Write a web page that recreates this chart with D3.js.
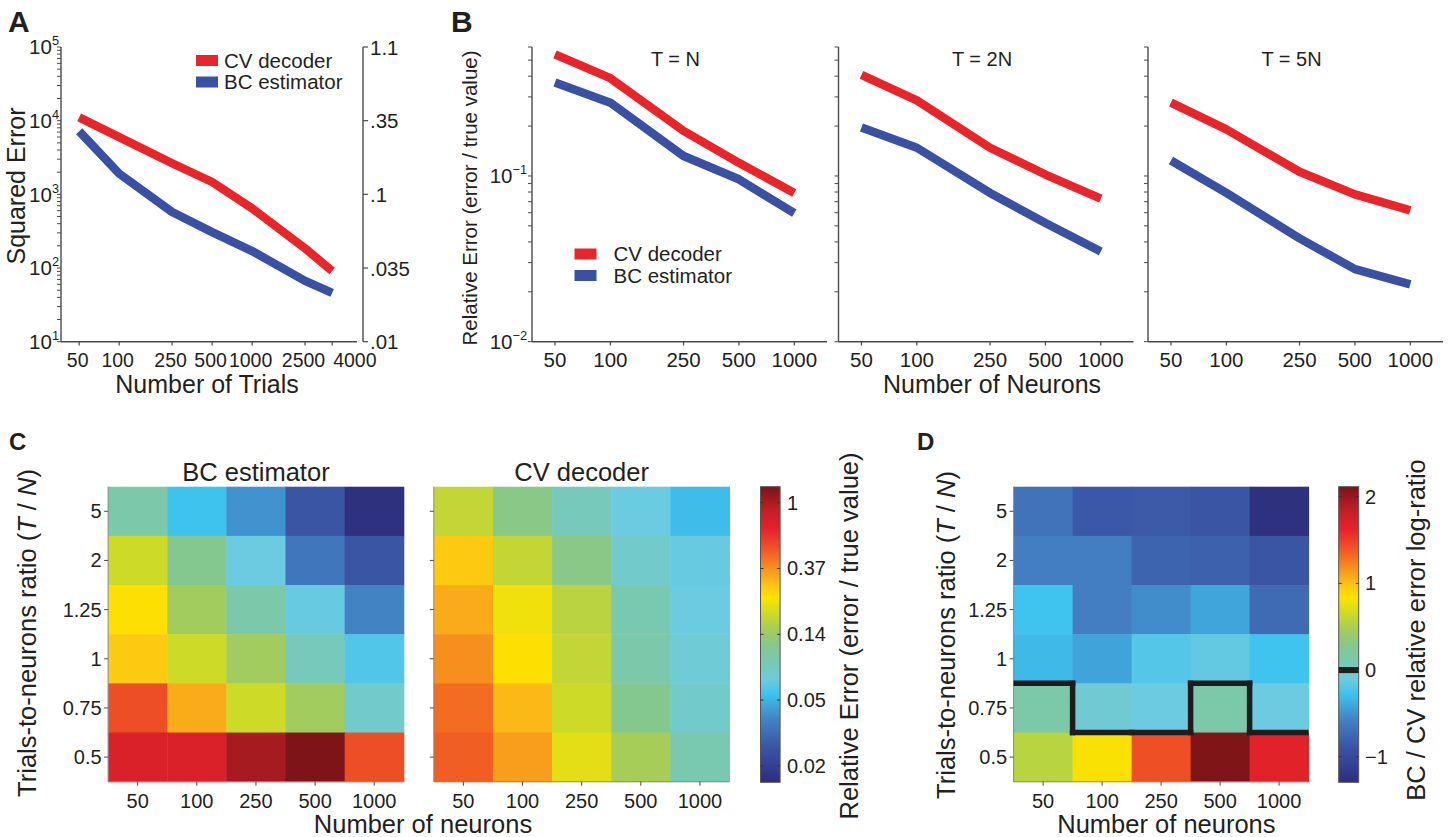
<!doctype html>
<html>
<head>
<meta charset="utf-8">
<script src="https://d3js.org/d3.v7.min.js"></script>
<style>
  body { margin: 0; background: #fff; }
  text { font-family: "Liberation Sans", Arial, sans-serif; fill: #231f20; }
</style>
</head>
<body>
<svg id="fig" width="1455" height="837"></svg>
<script>
// ---- data ----
// panel A
const trialsA = [50, 100, 250, 500, 1000, 2500, 4000];
const cvSqErr = [11100, 5970, 2640, 1470, 645, 185, 91];
const bcSqErr = [7190, 1910, 575, 307, 170, 67, 46];
const sqTicks = [1e1, 1e2, 1e3, 1e4, 1e5];
const sqTickExp = ['1', '2', '3', '4', '5'];
const relTickLabels = ['.01', '.035', '.1', '.35', '1.1'];

// panel B
const neuronsB = [50, 100, 250, 500, 1000];
const titlesB = ['T = N', 'T = 2N', 'T = 5N'];
const cvRelB = [
  [0.542, 0.389, 0.187, 0.120, 0.079],
  [0.407, 0.286, 0.148, 0.102, 0.073],
  [0.277, 0.191, 0.106, 0.0775, 0.062]
];
const bcRelB = [
  [0.366, 0.277, 0.132, 0.0955, 0.0596],
  [0.196, 0.148, 0.079, 0.052, 0.035],
  [0.124, 0.079, 0.042, 0.0274, 0.0222]
];
const relTicksB = [0.01, 0.1];
const relTickExpB = ['\u22122', '\u22121'];

// panels C and D (rows top to bottom)
const neuronsC = ['50', '100', '250', '500', '1000'];
const ratiosC = ['5', '2', '1.25', '1', '0.75', '0.5'];
const bcHeat = [
  [0.094, 0.055, 0.041, 0.0245, 0.0149],
  [0.185, 0.113, 0.067, 0.033, 0.0245],
  [0.242, 0.144, 0.094, 0.066, 0.037],
  [0.277, 0.185, 0.144, 0.084, 0.060],
  [0.52, 0.324, 0.185, 0.144, 0.077],
  [0.727, 0.727, 1.02, 1.26, 0.52]
];
const cvHeat = [
  [0.173, 0.118, 0.084, 0.067, 0.0526],
  [0.277, 0.173, 0.118, 0.077, 0.066],
  [0.324, 0.221, 0.165, 0.090, 0.067],
  [0.371, 0.242, 0.173, 0.094, 0.072],
  [0.444, 0.303, 0.185, 0.113, 0.077],
  [0.475, 0.347, 0.207, 0.148, 0.090]
];
const logRatioHeat = [
  [-0.68, -0.87, -0.85, -0.89, -1.26],
  [-0.60, -0.60, -0.78, -0.80, -0.89],
  [-0.27, -0.60, -0.53, -0.41, -0.73],
  [-0.32, -0.42, -0.20, -0.15, -0.27],
  [0.14, -0.06, -0.12, 0.14, -0.12],
  [0.56, 0.82, 1.43, 2.1, 1.65]
];
const cbTicksC = [1, 0.3679, 0.1353, 0.0498, 0.0183];
const cbLabelsC = ['1', '0.37', '0.14', '0.05', '0.02'];
const cbTicksD = [2, 1, 0, -1];
const cbLabelsD = ['2', '1', '0', '\u22121'];

// printed jet colormap, sampled from the colour bar
const jetStops = [
  [0.00, '#2c2e7c'], [0.07, '#35449a'], [0.12, '#3b55a5'], [0.21, '#4281c3'],
  [0.30, '#3ec3ef'], [0.345, '#6ccbe0'], [0.41, '#79c9b0'], [0.465, '#86c88c'],
  [0.515, '#a2cc5e'], [0.565, '#c9d92c'], [0.625, '#fde300'], [0.67, '#fcc315'],
  [0.72, '#f7941e'], [0.785, '#f05a24'], [0.855, '#e6222a'], [0.92, '#c01f26'],
  [1.00, '#7c1416']
];
const RED = '#e8252a', BLUE = '#3a50a2', AXIS = '#4a4a4a';

const svg = d3.select('#fig');
svg.append('rect').attr('width', 1455).attr('height', 837).attr('fill', '#fff');
const defs = svg.append('defs');

const cmap = d3.scaleLinear()
  .domain(jetStops.map(s => s[0]))
  .range(jetStops.map(s => s[1]))
  .clamp(true);

function panelLetter(x, y, s, size) {
  svg.append('text').attr('x', x).attr('y', y)
    .style('font-size', size + 'px').style('font-weight', 'bold').text(s);
}

function vline(g, x, y1, y2) {
  g.append('line').attr('x1', x).attr('x2', x).attr('y1', y1).attr('y2', y2)
    .attr('stroke', AXIS).attr('stroke-width', 1.4);
}
function hline(g, y, x1, x2) {
  g.append('line').attr('x1', x1).attr('x2', x2).attr('y1', y).attr('y2', y)
    .attr('stroke', AXIS).attr('stroke-width', 1.4);
}

// minor+major log ticks for a vertical axis
function logTicksY(g, y, x0, lo, hi, len) {
  const vals = [];
  for (let d = Math.floor(Math.log10(lo)); d <= Math.ceil(Math.log10(hi)); d++) {
    for (let k = 1; k <= 9; k++) {
      const v = k * Math.pow(10, d);
      if (v >= lo * 0.999 && v <= hi * 1.001) vals.push(v);
    }
  }
  g.selectAll(null).data(vals).join('line')
    .attr('x1', x0 - len).attr('x2', x0)
    .attr('y1', d => y(d)).attr('y2', d => y(d))
    .attr('stroke', AXIS).attr('stroke-width', 1);
}

function expLabel(g, x, y, exp, size) {
  const t = g.append('text').attr('x', x).attr('y', y + size * 0.36)
    .attr('text-anchor', 'end').style('font-size', size + 'px');
  t.append('tspan').text('10');
  t.append('tspan').attr('dy', -size * 0.45).style('font-size', (size * 0.62) + 'px').text(exp);
}

function legend(g, x, y, size, gap) {
  const items = [['CV decoder', RED], ['BC estimator', BLUE]];
  items.forEach((it, i) => {
    g.append('rect').attr('x', x).attr('y', y + i * 21.5)
      .attr('width', 22).attr('height', 11).attr('fill', it[1]);
    g.append('text').attr('x', x + gap).attr('y', y + i * 21.5 + 12.5)
      .style('font-size', size + 'px').text(it[0]);
  });
}

// ================= Panel A =================
(function () {
  const g = svg.append('g');
  const x = d3.scaleLog().domain([36.5, 6150]).range([61, 357]);
  const y = d3.scaleLog().domain([10, 1e5]).range([341.7, 47]);

  vline(g, 61, 47, 341.7);
  hline(g, 341.7, 61, 357);
  vline(g, 363, 47, 341.7);
  logTicksY(g, y, 61, 10, 1e5, 4);

  sqTicks.forEach((v, i) => {
    expLabel(g, 59, y(v), sqTickExp[i], 20.5);
    g.append('line').attr('x1', 363).attr('x2', 368).attr('y1', y(v)).attr('y2', y(v))
      .attr('stroke', AXIS).attr('stroke-width', 1.2);
    g.append('text').attr('x', 370).attr('y', y(v) + 7.5)
      .style('font-size', '20.5px').text(relTickLabels[i]);
  });

  trialsA.forEach((v, i) => {
    const last = i === trialsA.length - 1;
    g.append('line').attr('x1', x(v)).attr('x2', x(v)).attr('y1', 341.7).attr('y2', 345.5)
      .attr('stroke', AXIS).attr('stroke-width', 1.2);
    // the last label sits just right of its tick so it does not run into "2500"
    g.append('text').attr('x', last ? x(v) + 1 : x(v) - 1.5).attr('y', 366.5)
      .attr('text-anchor', last ? 'start' : 'middle')
      .style('font-size', '19.5px').text(v);
  });

  const line = d3.line().x((d, i) => x(trialsA[i])).y(d => y(d));
  [[cvSqErr, RED], [bcSqErr, BLUE]].forEach(s => {
    g.append('path').attr('d', line(s[0])).attr('fill', 'none')
      .attr('stroke', s[1]).attr('stroke-width', 8.5).attr('stroke-linejoin', 'round');
  });

  legend(g, 196, 55, 20.5, 28);

  g.append('text').attr('x', 207).attr('y', 393).attr('text-anchor', 'middle')
    .style('font-size', '25px').text('Number of Trials');
  g.append('text').attr('transform', 'translate(25,186) rotate(-90)')
    .attr('text-anchor', 'middle').style('font-size', '25px').text('Squared Error');
  panelLetter(8, 32, 'A', 30);
})();

// ================= Panel B =================
(function () {
  const lefts = [532, 838.5, 1148];
  const W = 295;
  const y = d3.scaleLog().domain([0.01, 0.6]).range([341.7, 47]);

  lefts.forEach((L, p) => {
    const g = svg.append('g');
    const x = d3.scaleLog().domain([37.5, 1506]).range([L, L + W]);
    vline(g, L, 47, 341.7);
    hline(g, 341.7, L, L + W);
    logTicksY(g, y, L, 0.01, 0.6, 4);
    if (p === 0) {
      relTicksB.forEach((v, i) => expLabel(g, 527, y(v), relTickExpB[i], 20.5));
    }
    neuronsB.forEach(v => {
      g.append('line').attr('x1', x(v)).attr('x2', x(v)).attr('y1', 341.7).attr('y2', 345.5)
        .attr('stroke', AXIS).attr('stroke-width', 1.2);
      g.append('text').attr('x', x(v)).attr('y', 366.5).attr('text-anchor', 'middle')
        .style('font-size', '20.5px').text(v);
    });
    const line = d3.line().x((d, i) => x(neuronsB[i])).y(d => y(d));
    [[cvRelB[p], RED], [bcRelB[p], BLUE]].forEach(s => {
      g.append('path').attr('d', line(s[0])).attr('fill', 'none')
        .attr('stroke', s[1]).attr('stroke-width', 8.5).attr('stroke-linejoin', 'round');
    });
    g.append('text').attr('x', L + W / 2 - 4).attr('y', 65.5).attr('text-anchor', 'middle')
      .style('font-size', '20px').text(titlesB[p]);
  });

  legend(svg, 574.5, 248.5, 20.5, 39);
  svg.append('text').attr('x', 992).attr('y', 393).attr('text-anchor', 'middle')
    .style('font-size', '25px').text('Number of Neurons');
  svg.append('text').attr('transform', 'translate(477,198) rotate(-90)')
    .attr('text-anchor', 'middle').style('font-size', '20.5px')
    .text('Relative Error (error / true value)');
  panelLetter(451, 32, 'B', 30);
})();

// ================= Heatmaps (C, D) =================
const TOP = 486.7, BOT = 781.7;
const yBand = d3.scaleBand().domain(ratiosC).range([TOP, BOT]);

function heatmap(left, width, data, colorOf, showY, title) {
  const g = svg.append('g');
  const x = d3.scaleBand().domain(neuronsC).range([left, left + width]);
  data.forEach((row, r) => {
    g.selectAll(null).data(row).join('rect')
      .attr('x', (d, c) => x(neuronsC[c]))
      .attr('y', yBand(ratiosC[r]))
      .attr('width', x.bandwidth() + 0.5)
      .attr('height', yBand.bandwidth() + 0.5)
      .attr('fill', d => colorOf(d));
  });
  g.append('line').attr('x1', left).attr('x2', left).attr('y1', TOP).attr('y2', BOT)
    .attr('stroke', '#8a8a8a').attr('stroke-width', 1);
  g.append('line').attr('x1', left).attr('x2', left + width).attr('y1', BOT).attr('y2', BOT)
    .attr('stroke', '#8a8a8a').attr('stroke-width', 1);
  ratiosC.forEach(r => {
    const yy = yBand(r) + yBand.bandwidth() / 2;
    g.append('line').attr('x1', left - 4).attr('x2', left).attr('y1', yy).attr('y2', yy)
      .attr('stroke', AXIS).attr('stroke-width', 1);
    if (showY) {
      g.append('text').attr('x', left - 6.5).attr('y', yy + 7).attr('text-anchor', 'end')
        .style('font-size', '20px').text(r);
    }
  });
  neuronsC.forEach(n => {
    const xx = x(n) + x.bandwidth() / 2;
    g.append('line').attr('x1', xx).attr('x2', xx).attr('y1', BOT).attr('y2', BOT + 4)
      .attr('stroke', AXIS).attr('stroke-width', 1);
    g.append('text').attr('x', xx).attr('y', 807.5).attr('text-anchor', 'middle')
      .style('font-size', '20px').text(n);
  });
  if (title) {
    g.append('text').attr('x', left + width / 2).attr('y', 481).attr('text-anchor', 'middle')
      .style('font-size', '25.5px').text(title);
  }
  return x;
}

function yLabelTN(x, y) {
  const t = svg.append('text').attr('transform', `translate(${x},${y}) rotate(-90)`)
    .attr('text-anchor', 'middle').style('font-size', '25.5px');
  t.append('tspan').text('Trials-to-neurons ratio (');
  t.append('tspan').style('font-style', 'italic').text('T');
  t.append('tspan').text(' / ');
  t.append('tspan').style('font-style', 'italic').text('N');
  t.append('tspan').text(')');
}

function colorbar(id, x0, w, yScale) {
  const g = svg.append('g');
  const grad = defs.append('linearGradient').attr('id', id)
    .attr('x1', 0).attr('y1', 1).attr('x2', 0).attr('y2', 0);
  grad.selectAll('stop').data(jetStops).join('stop')
    .attr('offset', d => d[0]).attr('stop-color', d => d[1]);
  const [a, b] = yScale.range();
  g.append('rect').attr('x', x0).attr('y', b).attr('width', w).attr('height', a - b)
    .attr('fill', `url(#${id})`).attr('stroke', '#555').attr('stroke-width', 1);
  return g;
}

// ---- Panel C ----
(function () {
  const tC = d3.scaleLog().domain([0.01427, 1.275]).range([0, 1]);
  const colorOf = v => cmap(tC(v));
  heatmap(108.1, 295.7, bcHeat, colorOf, true, 'BC estimator');
  heatmap(433.8, 295.7, cvHeat, colorOf, false, 'CV decoder');
  yLabelTN(36, 633);
  svg.append('text').attr('x', 423).attr('y', 833).attr('text-anchor', 'middle')
    .style('font-size', '25.5px').text('Number of neurons');

  const cy = d3.scaleLog().domain([0.01427, 1.275]).range([782.3, 486.7]);
  const g = colorbar('jetC', 760.5, 19.6, cy);
  cbTicksC.forEach((v, i) => {
    const yy = cy(v);
    g.append('line').attr('x1', 760.5).attr('x2', 763.5).attr('y1', yy).attr('y2', yy)
      .attr('stroke', '#333').attr('stroke-width', 1);
    g.append('line').attr('x1', 777.1).attr('x2', 780.1).attr('y1', yy).attr('y2', yy)
      .attr('stroke', '#333').attr('stroke-width', 1);
    g.append('text').attr('x', 787).attr('y', yy + 7).style('font-size', '20px').text(cbLabelsC[i]);
  });
  svg.append('text').attr('transform', 'translate(858,636) rotate(-90)')
    .attr('text-anchor', 'middle').style('font-size', '25.5px')
    .text('Relative Error (error / true value)');
  panelLetter(9, 450, 'C', 24);
})();

// ---- Panel D ----
(function () {
  const lo = -1.295, hi = 2.115;
  const tD = d3.scaleLinear().domain([lo, hi]).range([0, 1]);
  const left = 1013.6, width = 295;
  const x = heatmap(left, width, logRatioHeat, v => cmap(tD(v)), true, null);

  // zero contour between cells of opposite sign, clipped to the image
  defs.append('clipPath').attr('id', 'clipD').append('rect')
    .attr('x', left).attr('y', TOP).attr('width', width).attr('height', BOT - TOP);
  const segs = [];
  const bw = x.bandwidth(), bh = yBand.bandwidth();
  logRatioHeat.forEach((row, r) => row.forEach((v, c) => {
    const x0 = x(neuronsC[c]), y0 = yBand(ratiosC[r]);
    if (c < row.length - 1 && Math.sign(v) !== Math.sign(row[c + 1]))
      segs.push([[x0 + bw, y0], [x0 + bw, y0 + bh]]);
    if (r < logRatioHeat.length - 1 && Math.sign(v) !== Math.sign(logRatioHeat[r + 1][c]))
      segs.push([[x0, y0 + bh], [x0 + bw, y0 + bh]]);
  }));
  svg.append('g').attr('clip-path', 'url(#clipD)').selectAll('line').data(segs).join('line')
    .attr('x1', d => d[0][0]).attr('y1', d => d[0][1])
    .attr('x2', d => d[1][0]).attr('y2', d => d[1][1])
    .attr('stroke', '#1e1c1d').attr('stroke-width', 5.5).attr('stroke-linecap', 'square');

  yLabelTN(955, 635);
  svg.append('text').attr('x', 1166.4).attr('y', 833).attr('text-anchor', 'middle')
    .style('font-size', '25.5px').text('Number of neurons');

  const cy = d3.scaleLinear().domain([lo, hi]).range([782.3, 486.7]);
  const g = colorbar('jetD', 1338.7, 20, cy);
  g.append('rect').attr('x', 1338.7).attr('y', cy(0.035)).attr('width', 20)
    .attr('height', cy(-0.035) - cy(0.035)).attr('fill', '#1e1c1d');
  cbTicksD.forEach((v, i) => {
    const yy = cy(v);
    g.append('line').attr('x1', 1338.7).attr('x2', 1341.7).attr('y1', yy).attr('y2', yy)
      .attr('stroke', '#333').attr('stroke-width', 1);
    g.append('line').attr('x1', 1355.7).attr('x2', 1358.7).attr('y1', yy).attr('y2', yy)
      .attr('stroke', '#333').attr('stroke-width', 1);
    g.append('text').attr('x', 1365).attr('y', yy + 7).style('font-size', '20px').text(cbLabelsD[i]);
  });
  svg.append('text').attr('transform', 'translate(1425,630) rotate(-90)')
    .attr('text-anchor', 'middle').style('font-size', '25.5px')
    .text('BC / CV relative error log-ratio');
  panelLetter(917, 450, 'D', 24);
})();
</script>
</body>
</html>
